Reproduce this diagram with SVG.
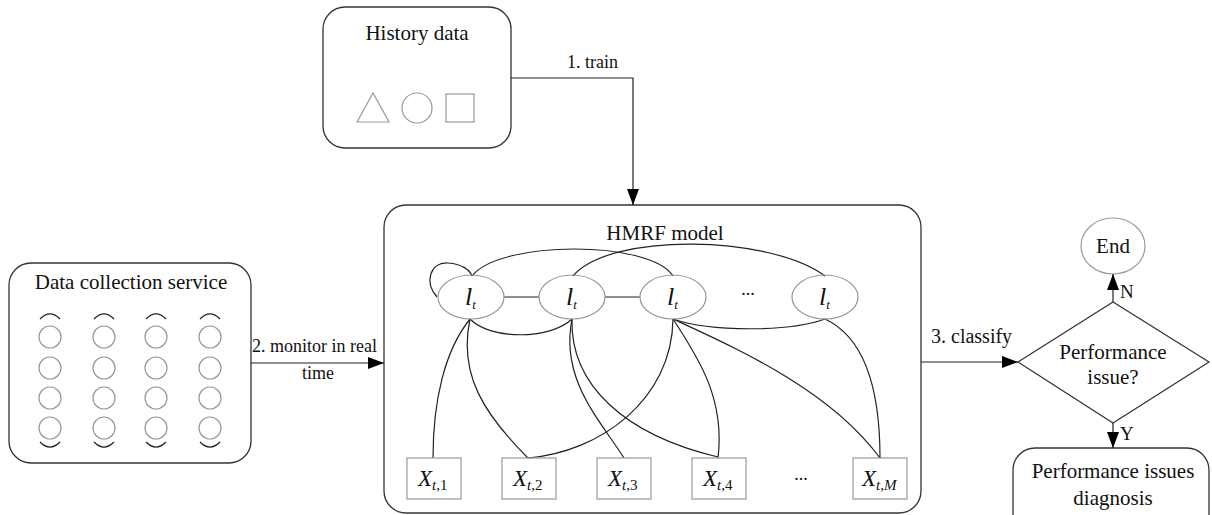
<svg xmlns="http://www.w3.org/2000/svg" width="1212" height="515" viewBox="0 0 1212 515" font-family="'Liberation Serif', 'DejaVu Serif', 'Times New Roman', Times, serif">
<style>
text{font-family:'Liberation Serif','DejaVu Serif','Times New Roman',Times,serif;fill:#111}
.box{fill:#fff;stroke:#333;stroke-width:1.3}
.g{fill:none;stroke:#999;stroke-width:1.2}
.e{fill:none;stroke:#222;stroke-width:1.2}
.c{fill:none;stroke:#222;stroke-width:1.2}
.lt{font-style:italic;font-size:26px}
.xl{font-style:italic;font-size:23px}
.m{text-anchor:middle}
</style>
<defs>
<marker id="ah" markerUnits="userSpaceOnUse" markerWidth="16" markerHeight="12" refX="16" refY="6" orient="auto"><path d="M0,0 L16,6 L0,12 z" fill="#000"/></marker>
</defs>

<g id="history">
<rect class="box" x="323" y="7" width="188" height="141" rx="22"/>
<text class="m" x="417" y="40" font-size="21">History data</text>
<path class="g" d="M357,122 L373,93 L389,122 Z"/>
<circle class="g" cx="417" cy="108" r="15"/>
<rect class="g" x="446" y="94" width="28" height="28"/>
</g>

<g id="datacollection">
<rect class="box" x="9" y="263" width="242" height="200" rx="22"/>
<text class="m" x="131" y="289" font-size="21">Data collection service</text>
<g class="g">
<circle cx="50" cy="337" r="11"/><circle cx="50" cy="368" r="11"/><circle cx="50" cy="398" r="11"/><circle cx="50" cy="428" r="11"/>
<circle cx="104" cy="337" r="11"/><circle cx="104" cy="368" r="11"/><circle cx="104" cy="398" r="11"/><circle cx="104" cy="428" r="11"/>
<circle cx="156" cy="337" r="11"/><circle cx="156" cy="368" r="11"/><circle cx="156" cy="398" r="11"/><circle cx="156" cy="428" r="11"/>
<circle cx="210" cy="337" r="11"/><circle cx="210" cy="368" r="11"/><circle cx="210" cy="398" r="11"/><circle cx="210" cy="428" r="11"/>
</g>
<g class="e" stroke-width="1.6">
<path d="M40,319 Q50,309 60,319"/><path d="M94,319 Q104,309 114,319"/><path d="M146,319 Q156,309 166,319"/><path d="M200,319 Q210,309 220,319"/>
<path d="M40,442 Q50,452 60,442"/><path d="M94,442 Q104,452 114,442"/><path d="M146,442 Q156,452 166,442"/><path d="M200,442 Q210,452 220,442"/>
</g>
</g>

<g id="hmrf">
<rect class="box" x="384" y="205" width="537" height="308" rx="22"/>
<text class="m" x="665" y="240" font-size="21">HMRF model</text>
</g>

<g id="hmrf-edges">
<path class="c" d="M437,297 C424,282 430,262 448,263 C462,264 470,270 472,276"/>
<path class="c" d="M472,276 C500,240 650,240 673,276"/>
<path class="c" d="M573,276 C610,232 770,235 825,276"/>
<path class="c" d="M504,297 L539,297 M605,297 L640,297"/>
<path class="c" d="M470,319 C490,340 550,340 572,319"/>
<path class="c" d="M673,319 C710,332 790,332 825,319"/>
<path class="c" d="M470,319 C445,350 433,400 433,458"/>
<path class="c" d="M470,319 C458,375 485,415 528,458"/>
<path class="c" d="M572,319 C560,380 600,420 624,458"/>
<path class="c" d="M572,319 C570,385 625,435 718,457"/>
<path class="c" d="M673,319 C672,400 600,452 528,458"/>
<path class="c" d="M673,319 C700,360 725,400 718,458"/>
<path class="c" d="M673,319 C740,350 830,390 880,458"/>
<path class="c" d="M825,319 C870,340 880,400 880,458"/>
</g>

<g id="l1"><ellipse class="g" cx="471" cy="297" rx="33" ry="22"/><text class="lt" x="465" y="305">l<tspan font-size="13" dy="4">t</tspan></text></g>
<g id="l2"><ellipse class="g" cx="572" cy="297" rx="33" ry="22"/><text class="lt" x="566" y="305">l<tspan font-size="13" dy="4">t</tspan></text></g>
<g id="l3"><ellipse class="g" cx="673" cy="297" rx="33" ry="22"/><text class="lt" x="667" y="305">l<tspan font-size="13" dy="4">t</tspan></text></g>
<text class="m" x="748" y="295" font-size="18">...</text>
<g id="l4"><ellipse class="g" cx="825" cy="297" rx="33" ry="22"/><text class="lt" x="819" y="305">l<tspan font-size="13" dy="4">t</tspan></text></g>

<g id="x1"><rect class="g" x="407" y="458" width="54" height="41"/><text class="xl" x="418" y="486">X<tspan font-size="15" dy="4">t</tspan><tspan font-size="15" font-style="normal">,1</tspan></text></g>
<g id="x2"><rect class="g" x="502" y="458" width="54" height="41"/><text class="xl" x="513" y="486">X<tspan font-size="15" dy="4">t</tspan><tspan font-size="15" font-style="normal">,2</tspan></text></g>
<g id="x3"><rect class="g" x="597" y="458" width="54" height="41"/><text class="xl" x="608" y="486">X<tspan font-size="15" dy="4">t</tspan><tspan font-size="15" font-style="normal">,3</tspan></text></g>
<g id="x4"><rect class="g" x="692" y="458" width="54" height="41"/><text class="xl" x="703" y="486">X<tspan font-size="15" dy="4">t</tspan><tspan font-size="15" font-style="normal">,4</tspan></text></g>
<text class="m" x="801" y="480" font-size="18">...</text>
<g id="xM"><rect class="g" x="853" y="458" width="54" height="41"/><text class="xl" x="862" y="486">X<tspan font-size="15" dy="4">t,M</tspan></text></g>

<g id="decision">
<path fill="#fff" stroke="#333" stroke-width="1.2" d="M1018,362 L1113,302 L1209,362 L1113,423 Z"/>
<text class="m" x="1113" y="359" font-size="21">Performance</text>
<text class="m" x="1113" y="384" font-size="21">issue?</text>
</g>

<g id="end">
<ellipse class="g" cx="1113" cy="246" rx="32" ry="28"/>
<text class="m" x="1113" y="253" font-size="21">End</text>
</g>

<g id="diagnosis">
<rect class="box" x="1013" y="448" width="196" height="90" rx="22"/>
<text class="m" x="1113" y="478" font-size="21">Performance issues</text>
<text class="m" x="1113" y="505" font-size="21">diagnosis</text>
</g>

<g id="connectors">
<path class="c" d="M511,78 L633,78 L633,205" marker-end="url(#ah)"/>
<text x="567" y="68" font-size="18">1. train</text>
<path class="c" d="M251,363 L384,363" marker-end="url(#ah)"/>
<text x="252" y="352" font-size="18">2. monitor in real</text>
<text class="m" x="318" y="379" font-size="18">time</text>
<path class="c" d="M921,362 L1018,362" marker-end="url(#ah)"/>
<text x="931" y="343" font-size="20">3. classify</text>
<path class="c" d="M1113,302 L1113,274" marker-end="url(#ah)"/>
<text x="1120" y="298" font-size="19">N</text>
<path class="c" d="M1113,423 L1113,448" marker-end="url(#ah)"/>
<text x="1120" y="440" font-size="19">Y</text>
</g>
</svg>
